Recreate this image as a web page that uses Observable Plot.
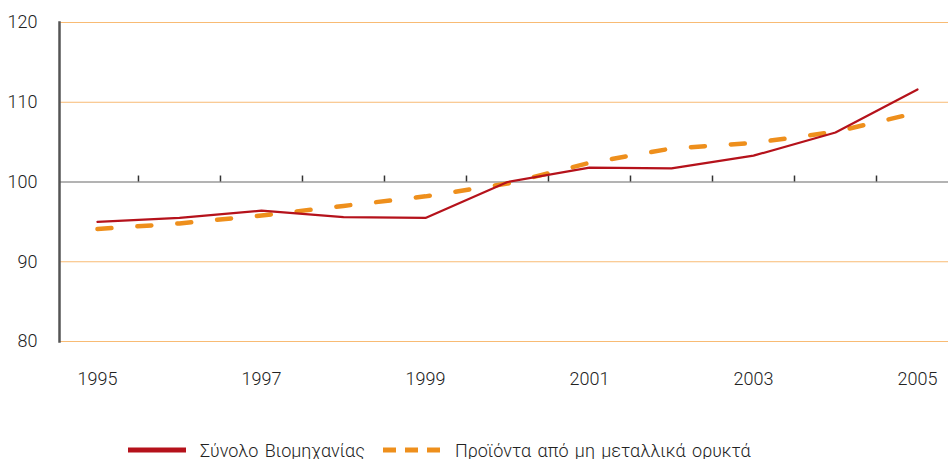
<!DOCTYPE html>
<html>
<head>
<meta charset="utf-8">
<script src="https://cdn.jsdelivr.net/npm/d3@7"></script>
<script src="https://cdn.jsdelivr.net/npm/@observablehq/plot@0.6"></script>
<style>
  body { margin: 0; background: #fff; font-family: Roboto, "Liberation Sans", sans-serif; }
  #legend { position: relative; height: 39px; font-size: 18px; font-weight: 300; color: #222; }
  #legend .item { position: absolute; top: 19px; display: flex; align-items: center; height: 22px; }
  #legend svg { margin-right: 14px; }
  #legend span { word-spacing: 2px; }
</style>
</head>
<body>
<div id="chart"></div>
<div id="legend"></div>
<script>
const years = [1995, 1996, 1997, 1998, 1999, 2000, 2001, 2002, 2003, 2004, 2005];
const totalIndustry = [95.0, 95.5, 96.4, 95.6, 95.5, 100.0, 101.8, 101.7, 103.3, 106.2, 111.6];
const nonMetallic = [94.1, 94.8, 95.8, 97.0, 98.2, 99.8, 102.4, 104.2, 104.9, 106.3, 108.7];
const yTicks = [80, 90, 100, 110, 120];
const xTickLabels = [1995, 1997, 1999, 2001, 2003, 2005];
const halfYearTicks = [1995.5, 1996.5, 1997.5, 1998.5, 1999.5, 2000.5, 2001.5, 2002.5, 2003.5, 2004.5];
const seriesNames = ["Σύνολο Βιομηχανίας", "Προϊόντα από μη μεταλλικά ορυκτά"];

const red = "#b5121b", orange = "#ee8f1c", gridOrange = "#f8bb74";
const totalData = years.map((y, i) => ({year: y, value: totalIndustry[i]}));
const nmData = years.map((y, i) => ({year: y, value: nonMetallic[i]}));

const chart = Plot.plot({
  width: 948,
  height: 420,
  marginLeft: 59,
  marginRight: 0,
  marginTop: 22,
  marginBottom: 79,
  style: {fontFamily: 'Roboto, "Liberation Sans", sans-serif', fontSize: "18px", fontWeight: 300, color: "#222"},
  x: {domain: [1994.537, 2005.378]},
  y: {domain: [80, 120]},
  marks: [
    Plot.ruleY(yTicks.filter(d => d !== 100), {stroke: gridOrange, strokeWidth: 1}),
    Plot.ruleY([100], {stroke: "#b3b3b3", strokeWidth: 2.2}),
    Plot.ruleX(halfYearTicks, {y1: 100, y2: 100.75, stroke: "#333", strokeWidth: 1.5}),
    Plot.frame({anchor: "left", stroke: "#555", strokeWidth: 2.5}),
    Plot.axisY(yTicks, {tickSize: 0, tickPadding: 22, label: null, fontSize: 18}),
    Plot.axisX(xTickLabels, {tickSize: 0, tickPadding: 31, tickFormat: d => String(d), label: null, fontSize: 18}),
    Plot.line(nmData, {x: "year", y: "value", stroke: orange, strokeWidth: 4.5, strokeDasharray: "14,26"}),
    Plot.line(totalData, {x: "year", y: "value", stroke: red, strokeWidth: 2.2})
  ]
});
document.getElementById("chart").appendChild(chart);

const legend = document.getElementById("legend");
const swatches = [
  `<svg width="58" height="8"><line x1="0" y1="4" x2="58" y2="4" stroke="${red}" stroke-width="5"/></svg>`,
  `<svg width="58" height="8"><line x1="0" y1="4" x2="58" y2="4" stroke="${orange}" stroke-width="5" stroke-dasharray="13,9"/></svg>`
];
const lefts = [128, 383];
seriesNames.forEach((name, i) => {
  const d = document.createElement("div");
  d.className = "item";
  d.style.left = lefts[i] + "px";
  d.innerHTML = swatches[i] + `<span>${name}</span>`;
  legend.appendChild(d);
});
</script>
</body>
</html>
